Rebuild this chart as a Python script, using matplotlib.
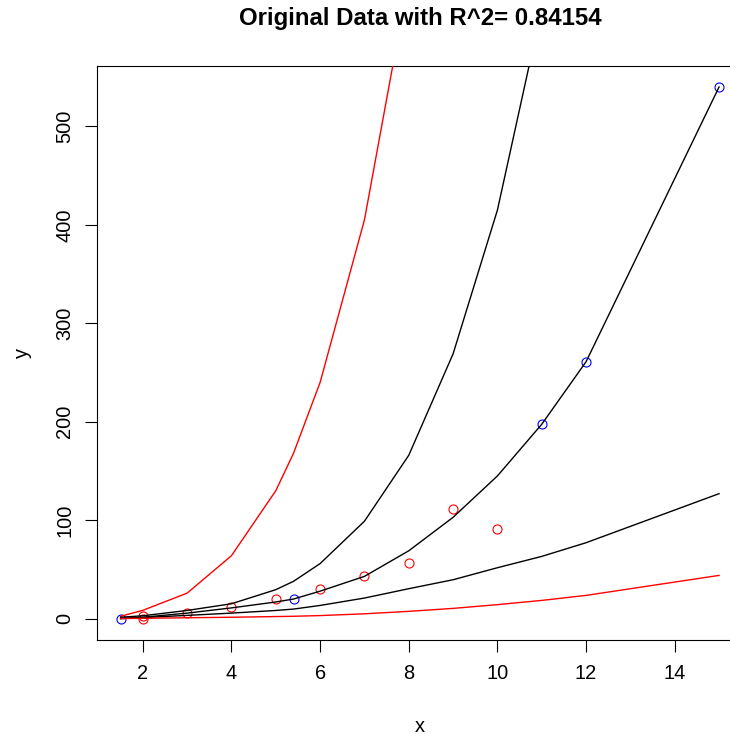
import numpy as np
import matplotlib
matplotlib.use('Agg')
import matplotlib.pyplot as plt

plt.rcParams['font.family'] = ['Liberation Sans', 'DejaVu Sans']

# observed points
red_x = [2, 2, 3, 4, 5, 6, 7, 8, 9, 10]
red_y = [0, 3, 6, 12, 20, 30, 43, 57, 111, 91]
blue_x = [1.5, 5.4, 11, 12, 15]
blue_y = [0, 20, 197.5, 261, 540]

# x positions shared by all curves
curve_x = [1.5, 2, 3, 4, 5, 5.4, 6, 7, 8, 9, 10, 11, 12, 15]
upper_red = [2.5, 8.5, 26, 64, 130, 168, 240, 405, 650, 1000, 1450, 2000, 2700, 5500]
upper_black = [1.5, 3, 8.4, 15.2, 29.5, 38, 56, 99, 166, 269, 415, 620, 890, 2100]
fit_black = [0, 1.5, 5.7, 11, 17, 20, 28, 43, 69, 103, 145, 197.5, 261, 540]
lower_black = [0.5, 1.2, 3.4, 5.7, 8.4, 9.8, 13.5, 21, 30.5, 39.6, 51.8, 63.3, 77.2, 127]
lower_red = [0.2, 0.4, 1, 1.5, 2.2, 2.5, 3.2, 5, 7.5, 10.5, 14.3, 18.6, 23.7, 44]

W, H = 730, 736
fig = plt.figure(figsize=(W / 100, H / 100), dpi=100)
# plot region runs past the right edge, as in the cropped original
ax = fig.add_axes([96.7 / W, 96 / H, 646.3 / W, 574.3 / H])

ax.plot(red_x, red_y, 'o', mfc='none', mec='red', ms=6.5, mew=0.8, zorder=2)
ax.plot(blue_x, blue_y, 'o', mfc='none', mec='blue', ms=6.5, mew=0.8, zorder=2)

ax.plot(curve_x, upper_red, color='red', lw=1.0, zorder=3)
ax.plot(curve_x, upper_black, color='black', lw=1.0, zorder=3)
ax.plot(curve_x, fit_black, color='black', lw=1.0, zorder=3)
ax.plot(curve_x, lower_black, color='black', lw=1.0, zorder=3)
ax.plot(curve_x, lower_red, color='red', lw=1.0, zorder=3)

ax.set_xlim(0.96, 15.54)
ax.set_ylim(-21.6, 561.6)
ax.set_xticks([2, 4, 6, 8, 10, 12, 14])
ax.set_yticks([0, 100, 200, 300, 400, 500])
ax.tick_params(direction='out', length=8.6, width=0.8, labelsize=14.4)
ax.tick_params(axis='x', pad=8.6)
ax.tick_params(axis='y', pad=7.6)
for lab in ax.get_yticklabels():
    lab.set_rotation(90)
    lab.set_va('center')
for s in ax.spines.values():
    s.set_linewidth(0.8)

fig.text(420 / W, 1 - 19 / H, "Original Data with R^2= 0.84154",
         ha='center', va='center', fontsize=17.3, fontweight='bold')
fig.text(420 / W, 1 - 732 / H, "x", ha='center', va='baseline', fontsize=14.4)
fig.text(22 / W, 1 - 353 / H, "y", ha='center', va='center', rotation=90, fontsize=14.4)

fig.savefig('out.png', dpi=100)
plt.close(fig)
